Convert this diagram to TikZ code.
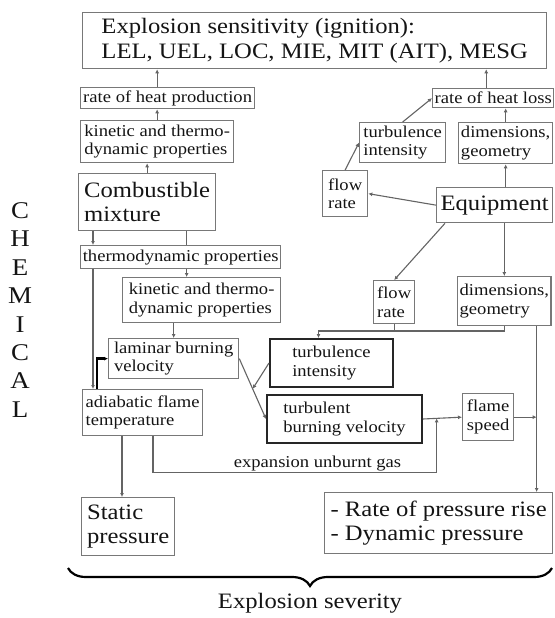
\documentclass[tikz,border=0pt]{standalone}
\usepackage{fontspec}
\setmainfont{Liberation Serif}[FakeStretch=1.12]
\usetikzlibrary{arrows.meta,calc,decorations.pathreplacing}
\definecolor{boxgray}{RGB}{120,120,120}
\definecolor{linegray}{RGB}{100,100,100}
\definecolor{inkgray}{RGB}{20,20,20}

\begin{document}
\begin{tikzpicture}[x=1pt,y=-1pt,
        every node/.style={text=inkgray},
        box/.style={draw=boxgray, line width=1.3pt, anchor=north west, align=left, inner sep=2pt},
        boldbox/.style={box, draw=black!85, line width=2pt},
        small/.style={font=\fontsize{16.6}{18.5}\selectfont},
        big/.style={font=\fontsize{22}{24.5}\selectfont},
        link/.style={draw=linegray, line width=1.1pt},
        arr/.style={link, -{Latex[length=4pt,width=4pt]}}]
    \useasboundingbox (0,0) rectangle (554,618);
    % boxes
    \node[box,big,minimum width=464,minimum height=56] (sens) at (82,12) {Explosion sensitivity (ignition):\\LEL, UEL, LOC, MIE, MIT (AIT), MESG};
    \node[box,small,minimum width=174,minimum height=21] (heatprod) at (80,87) {rate of heat production};
    \node[box,small,minimum width=153,minimum height=42] (kin1) at (80,120) {kinetic and thermo-\\dynamic properties};
    \node[box,big,minimum width=137,minimum height=57] (comb) at (78,173) {Combustible\\mixture};
    \node[box,small,minimum width=200,minimum height=23] (thermo) at (80,245) {thermodynamic properties};
    \node[box,small,minimum width=158,minimum height=45] (kin2) at (122,277) {kinetic and thermo-\\dynamic properties};
    \node[box,small,minimum width=130,minimum height=40] (laminar) at (108,338) {laminar burning\\velocity};
    \node[box,small,minimum width=120,minimum height=46] (adiab) at (82,389) {adiabatic flame\\temperature};
    \node[boldbox,small,minimum width=123,minimum height=48] (turbint2) at (269,338) {turbulence\\intensity};
    \node[boldbox,small,minimum width=155,minimum height=48] (turbvel) at (266,394) {turbulent\\burning velocity};
    \node[box,small,minimum width=51,minimum height=47] (flame) at (462,393) {flame\\speed};
    \node[box,big,minimum width=93,minimum height=58] (static) at (81,497) {Static\\pressure};
    \node[box,big,minimum width=228,minimum height=61] (press) at (324,492) {- Rate of pressure rise\\- Dynamic pressure};
    \node[box,small,minimum width=121,minimum height=19] (heatloss) at (432,88) {rate of heat loss};
    \node[box,small,minimum width=86,minimum height=40] (turbint1) at (359,122) {turbulence\\intensity};
    \node[box,small,minimum width=94,minimum height=41] (dims1) at (458,122) {dimensions,\\geometry};
    \node[box,small,minimum width=45,minimum height=46] (flow1) at (322,170) {flow\\rate};
    \node[box,big,minimum width=116,minimum height=35] (equip) at (436,187) {Equipment};
    \node[box,small,minimum width=41,minimum height=43] (flow2) at (373,280) {flow\\rate};
    \node[box,small,minimum width=93,minimum height=49] (dims2) at (457,276) {dimensions,\\geometry};
    \node[font=\fontsize{24}{28.4}\selectfont, align=center] (chem) at (20,310) {C\\H\\E\\M\\I\\C\\A\\L};
    \node[big] (severity) at (310,603) {Explosion severity};
    % helper points
    \coordinate (ti) at ([xshift=-13pt]turbint2.north);
    \coordinate (tj) at ($(ti)+(0,-7)$);
    \coordinate (dr) at ([xshift=-15pt]dims2.south east);
    \coordinate (ej) at ($(turbvel.east)!0.35!(flame.west)$);
    \coordinate (eb) at ($(ej)+(0,54)$);
    \coordinate (bl) at (68,568);
    \coordinate (br) at (552,568);
    % chemical side
    \draw[arr] (heatprod.north -| kin1.north) -- (sens.south -| kin1.north);
    \draw[arr] (kin1.north) -- (kin1.north |- heatprod.south);
    \draw[arr] (comb.north) -- (comb.north |- kin1.south);
    \draw[arr] ([xshift=15pt]comb.south west) -- ([xshift=15pt]comb.south west |- thermo.north);
    \draw[link] ([xshift=-15pt]kin2.north |- comb.south) -- ([xshift=-15pt]kin2.north |- thermo.north);
    \draw[arr] ([xshift=-15pt]kin2.north |- thermo.south) -- ([xshift=-15pt]kin2.north);
    \draw[arr] ([xshift=11pt]adiab.north west |- thermo.south) -- ([xshift=11pt]adiab.north west);
    \draw[arr, draw=black, line width=2.4pt] ([xshift=15pt]adiab.north west) |- (laminar.west);
    \draw[arr] (laminar.north |- kin2.south) -- (laminar.north);
    \draw[arr] (laminar.east) -- (turbvel.west);
    \draw[arr] (turbint2.west) -- ($(laminar.east)!0.5!(turbvel.west)$);
    \draw[arr] ([xshift=40pt]adiab.south west) -- ([xshift=40pt]adiab.south west |- static.north);
    \draw[arr] ([xshift=71pt]adiab.south west) |- (eb)
        node[pos=0.79, anchor=south, inner sep=0.5pt, small] (expl) {expansion unburnt gas} -- (ej);
    % equipment side
    \draw[arr] ([xshift=-7pt]heatloss.north) -- ([xshift=-7pt]heatloss.north |- sens.south);
    \draw[arr] (dims1.north) -- (dims1.north |- heatloss.south);
    \draw[arr] (turbint1.north) -- (heatloss.west);
    \draw[arr] (flow1.north) -- (turbint1.west);
    \draw[arr] (equip.west) -- (flow1.east);
    \draw[arr] (equip.north -| dims1.north) -- (dims1.south);
    \draw[arr] ([xshift=9pt]equip.south west) -- (flow2.north);
    \draw[arr] (equip.south -| dims2.north) -- (dims2.north);
    \draw[link] (flow2.south) -- (flow2.south |- tj);
    \draw[arr] (dims2.south) |- (tj) -- (ti);
    \draw[arr] (turbvel.east) -- (flame.west);
    \draw[arr] (flame.east) -- (flame.east -| dr);
    \draw[arr] (dr) -- (dr |- press.north);
    % severity brace
    \draw[decorate, decoration={brace, amplitude=18pt, mirror}, line width=2.2pt] (bl) -- (br);
\end{tikzpicture}
\end{document}
